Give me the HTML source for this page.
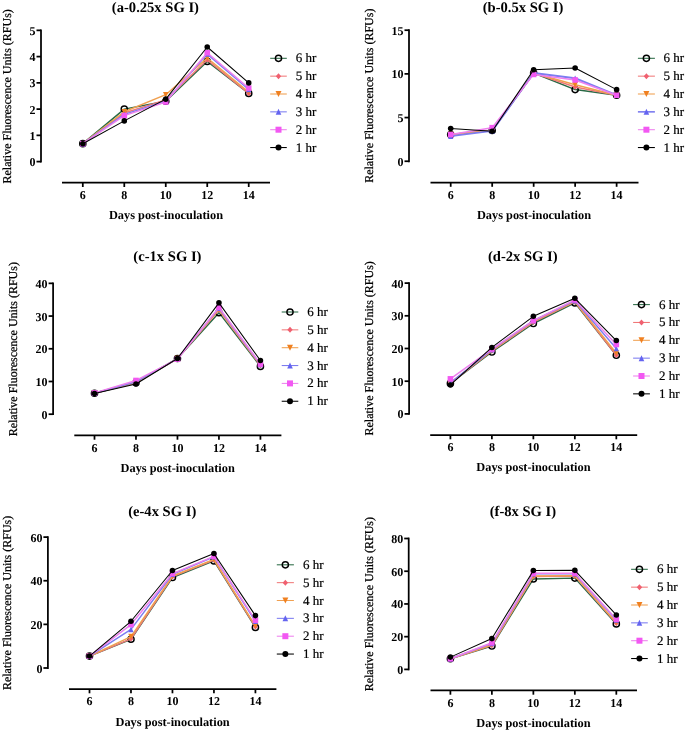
<!DOCTYPE html>
<html><head><meta charset="utf-8"><style>
html,body{margin:0;padding:0;background:#fff;overflow:hidden;width:685px;height:731px;}
svg{display:block;will-change:transform;}
text{font-family:"Liberation Serif", serif;fill:#000;text-rendering:geometricPrecision;}
.title{font-weight:bold;font-size:14.6px;text-anchor:middle;}
.ylab{font-size:12px;text-anchor:middle;stroke:#000;stroke-width:0.25px;}
.ytick{font-weight:bold;font-size:12px;text-anchor:end;}
.xtick{font-weight:bold;font-size:12px;text-anchor:middle;}
.xlab{font-weight:bold;font-size:12.35px;text-anchor:middle;}
.leg{font-size:13px;stroke:#000;stroke-width:0.2px;}
.ax{stroke:#000;stroke-width:1.75;fill:none;}
</style></head><body>
<svg width="685" height="731" viewBox="0 0 685 731">
<rect width="685" height="731" fill="#fff"/>
<text x="155.4" y="11.8" class="title">(a-0.25x SG I)</text>
<text transform="translate(11.1 96.3) rotate(-90)" x="0" y="0" class="ylab">Relative Fluorescence Units (RFUs)</text>
<path d="M41 29.450000000000003V162.5" class="ax"/>
<path d="M36.5 161.60H41" class="ax"/>
<text x="35.5" y="166.10" class="ytick">0</text>
<path d="M36.5 135.35H41" class="ax"/>
<text x="35.5" y="139.85" class="ytick">1</text>
<path d="M36.5 109.10H41" class="ax"/>
<text x="35.5" y="113.60" class="ytick">2</text>
<path d="M36.5 82.85H41" class="ax"/>
<text x="35.5" y="87.35" class="ytick">3</text>
<path d="M36.5 56.60H41" class="ax"/>
<text x="35.5" y="61.10" class="ytick">4</text>
<path d="M36.5 30.35H41" class="ax"/>
<text x="35.5" y="34.85" class="ytick">5</text>
<path d="M62 182.7H270" class="ax"/>
<path d="M82.80 182.7V187.0" class="ax"/>
<text x="82.80" y="198.90" class="xtick">6</text>
<path d="M124.28 182.7V187.0" class="ax"/>
<text x="124.28" y="198.90" class="xtick">8</text>
<path d="M165.76 182.7V187.0" class="ax"/>
<text x="165.76" y="198.90" class="xtick">10</text>
<path d="M207.24 182.7V187.0" class="ax"/>
<text x="207.24" y="198.90" class="xtick">12</text>
<path d="M248.72 182.7V187.0" class="ax"/>
<text x="248.72" y="198.90" class="xtick">14</text>
<text x="166" y="218.8" class="xlab">Days post-inoculation</text>
<path d="M82.80 143.68 L124.28 109.10 L165.76 101.24 L207.24 61.42 L248.72 93.38" fill="none" stroke="#2a6a45" stroke-width="1.45" stroke-linejoin="round"/>
<circle cx="82.80" cy="143.68" r="3.1" fill="none" stroke="#000" stroke-width="1.45"/>
<circle cx="124.28" cy="109.10" r="3.1" fill="none" stroke="#000" stroke-width="1.45"/>
<circle cx="165.76" cy="101.24" r="3.1" fill="none" stroke="#000" stroke-width="1.45"/>
<circle cx="207.24" cy="61.42" r="3.1" fill="none" stroke="#000" stroke-width="1.45"/>
<circle cx="248.72" cy="93.38" r="3.1" fill="none" stroke="#000" stroke-width="1.45"/>
<path d="M82.80 143.68 L124.28 113.03 L165.76 99.93 L207.24 59.84 L248.72 93.38" fill="none" stroke="#f07878" stroke-width="1.45" stroke-linejoin="round"/>
<path d="M82.80 140.89L85.31 143.68L82.80 146.47L80.29 143.68Z" fill="#f06070"/>
<path d="M124.28 110.24L126.79 113.03L124.28 115.82L121.77 113.03Z" fill="#f06070"/>
<path d="M165.76 97.14L168.27 99.93L165.76 102.72L163.25 99.93Z" fill="#f06070"/>
<path d="M207.24 57.05L209.75 59.84L207.24 62.63L204.73 59.84Z" fill="#f06070"/>
<path d="M248.72 90.59L251.23 93.38L248.72 96.17L246.21 93.38Z" fill="#f06070"/>
<path d="M82.80 143.68 L124.28 111.72 L165.76 94.69 L207.24 58.01 L248.72 92.07" fill="none" stroke="#f0a050" stroke-width="1.45" stroke-linejoin="round"/>
<path d="M80.01 140.89L85.59 140.89L82.80 146.47Z" fill="#f08020"/>
<path d="M121.49 108.93L127.07 108.93L124.28 114.51Z" fill="#f08020"/>
<path d="M162.97 91.90L168.55 91.90L165.76 97.48Z" fill="#f08020"/>
<path d="M204.45 55.22L210.03 55.22L207.24 60.80Z" fill="#f08020"/>
<path d="M245.93 89.28L251.51 89.28L248.72 94.86Z" fill="#f08020"/>
<path d="M82.80 143.68 L124.28 114.34 L165.76 101.24 L207.24 54.08 L248.72 89.45" fill="none" stroke="#7c7cf0" stroke-width="1.45" stroke-linejoin="round"/>
<path d="M80.20 146.47L85.40 146.47L82.80 140.89Z" fill="#6464f0"/>
<path d="M121.68 117.13L126.88 117.13L124.28 111.55Z" fill="#6464f0"/>
<path d="M163.16 104.03L168.36 104.03L165.76 98.45Z" fill="#6464f0"/>
<path d="M204.64 56.87L209.84 56.87L207.24 51.29Z" fill="#6464f0"/>
<path d="M246.12 92.24L251.32 92.24L248.72 86.66Z" fill="#6464f0"/>
<path d="M82.80 143.68 L124.28 115.65 L165.76 102.03 L207.24 52.77 L248.72 88.14" fill="none" stroke="#ee80ee" stroke-width="1.45" stroke-linejoin="round"/>
<rect x="80.01" y="140.89" width="5.58" height="5.58" fill="#f258f2"/>
<rect x="121.49" y="112.86" width="5.58" height="5.58" fill="#f258f2"/>
<rect x="162.97" y="99.24" width="5.58" height="5.58" fill="#f258f2"/>
<rect x="204.45" y="49.98" width="5.58" height="5.58" fill="#f258f2"/>
<rect x="245.93" y="85.35" width="5.58" height="5.58" fill="#f258f2"/>
<path d="M82.80 143.68 L124.28 120.89 L165.76 99.14 L207.24 47.01 L248.72 82.90" fill="none" stroke="#000000" stroke-width="1.05" stroke-linejoin="round"/>
<circle cx="82.80" cy="143.68" r="2.79" fill="#000000"/>
<circle cx="124.28" cy="120.89" r="2.79" fill="#000000"/>
<circle cx="165.76" cy="99.14" r="2.79" fill="#000000"/>
<circle cx="207.24" cy="47.01" r="2.79" fill="#000000"/>
<circle cx="248.72" cy="82.90" r="2.79" fill="#000000"/>
<path d="M270.2 58.30H286.8" stroke="#2a6a45" stroke-width="1.05"/>
<circle cx="278.50" cy="58.30" r="3.1" fill="none" stroke="#000" stroke-width="1.45"/>
<text x="295.8" y="62.30" class="leg">6 hr</text>
<path d="M270.2 76.15H286.8" stroke="#f07878" stroke-width="1.05"/>
<path d="M278.50 73.15L281.20 76.15L278.50 79.15L275.80 76.15Z" fill="#f06070"/>
<text x="295.8" y="80.15" class="leg">5 hr</text>
<path d="M270.2 94.00H286.8" stroke="#f0a050" stroke-width="1.05"/>
<path d="M275.50 91.00L281.50 91.00L278.50 97.00Z" fill="#f08020"/>
<text x="295.8" y="98.00" class="leg">4 hr</text>
<path d="M270.2 111.85H286.8" stroke="#7c7cf0" stroke-width="1.05"/>
<path d="M275.70 114.85L281.30 114.85L278.50 108.85Z" fill="#6464f0"/>
<text x="295.8" y="115.85" class="leg">3 hr</text>
<path d="M270.2 129.70H286.8" stroke="#ee80ee" stroke-width="1.05"/>
<rect x="275.50" y="126.70" width="6.00" height="6.00" fill="#f258f2"/>
<text x="295.8" y="133.70" class="leg">2 hr</text>
<path d="M270.2 147.55H286.8" stroke="#000000" stroke-width="1.05"/>
<circle cx="278.50" cy="147.55" r="3.00" fill="#000000"/>
<text x="295.8" y="151.55" class="leg">1 hr</text>
<text x="523.05" y="11.8" class="title">(b-0.5x SG I)</text>
<text transform="translate(373 95.7) rotate(-90)" x="0" y="0" class="ylab">Relative Fluorescence Units (RFUs)</text>
<path d="M409 29.3V162.15" class="ax"/>
<path d="M404.5 161.25H409" class="ax"/>
<text x="403.5" y="165.75" class="ytick">0</text>
<path d="M404.5 117.57H409" class="ax"/>
<text x="403.5" y="122.07" class="ytick">5</text>
<path d="M404.5 73.88H409" class="ax"/>
<text x="403.5" y="78.38" class="ytick">10</text>
<path d="M404.5 30.20H409" class="ax"/>
<text x="403.5" y="34.70" class="ytick">15</text>
<path d="M430.5 182.5H638.5" class="ax"/>
<path d="M450.70 182.5V186.8" class="ax"/>
<text x="450.70" y="198.70" class="xtick">6</text>
<path d="M492.18 182.5V186.8" class="ax"/>
<text x="492.18" y="198.70" class="xtick">8</text>
<path d="M533.66 182.5V186.8" class="ax"/>
<text x="533.66" y="198.70" class="xtick">10</text>
<path d="M575.14 182.5V186.8" class="ax"/>
<text x="575.14" y="198.70" class="xtick">12</text>
<path d="M616.62 182.5V186.8" class="ax"/>
<text x="616.62" y="198.70" class="xtick">14</text>
<text x="534" y="219" class="xlab">Days post-inoculation</text>
<path d="M450.70 134.54 L492.18 130.45 L533.66 73.03 L575.14 89.56 L616.62 95.22" fill="none" stroke="#2a6a45" stroke-width="1.45" stroke-linejoin="round"/>
<circle cx="450.70" cy="134.54" r="3.1" fill="none" stroke="#000" stroke-width="1.45"/>
<circle cx="492.18" cy="130.45" r="3.1" fill="none" stroke="#000" stroke-width="1.45"/>
<circle cx="533.66" cy="73.03" r="3.1" fill="none" stroke="#000" stroke-width="1.45"/>
<circle cx="575.14" cy="89.56" r="3.1" fill="none" stroke="#000" stroke-width="1.45"/>
<circle cx="616.62" cy="95.22" r="3.1" fill="none" stroke="#000" stroke-width="1.45"/>
<path d="M450.70 134.54 L492.18 130.45 L533.66 73.03 L575.14 86.95 L616.62 95.22" fill="none" stroke="#f07878" stroke-width="1.45" stroke-linejoin="round"/>
<path d="M450.70 131.75L453.21 134.54L450.70 137.33L448.19 134.54Z" fill="#f06070"/>
<path d="M492.18 127.66L494.69 130.45L492.18 133.24L489.67 130.45Z" fill="#f06070"/>
<path d="M533.66 70.24L536.17 73.03L533.66 75.82L531.15 73.03Z" fill="#f06070"/>
<path d="M575.14 84.16L577.65 86.95L575.14 89.74L572.63 86.95Z" fill="#f06070"/>
<path d="M616.62 92.43L619.13 95.22L616.62 98.01L614.11 95.22Z" fill="#f06070"/>
<path d="M450.70 134.54 L492.18 130.45 L533.66 73.03 L575.14 84.78 L616.62 95.22" fill="none" stroke="#f0a050" stroke-width="1.45" stroke-linejoin="round"/>
<path d="M447.91 131.75L453.49 131.75L450.70 137.33Z" fill="#f08020"/>
<path d="M489.39 127.66L494.97 127.66L492.18 133.24Z" fill="#f08020"/>
<path d="M530.87 70.24L536.45 70.24L533.66 75.82Z" fill="#f08020"/>
<path d="M572.35 81.98L577.93 81.98L575.14 87.57Z" fill="#f08020"/>
<path d="M613.83 92.43L619.41 92.43L616.62 98.01Z" fill="#f08020"/>
<path d="M450.70 136.11 L492.18 130.88 L533.66 73.03 L575.14 78.25 L616.62 95.22" fill="none" stroke="#7c7cf0" stroke-width="1.9" stroke-linejoin="round"/>
<path d="M448.10 138.90L453.30 138.90L450.70 133.32Z" fill="#6464f0"/>
<path d="M489.58 133.67L494.78 133.67L492.18 128.09Z" fill="#6464f0"/>
<path d="M531.06 75.82L536.26 75.82L533.66 70.24Z" fill="#6464f0"/>
<path d="M572.54 81.04L577.74 81.04L575.14 75.46Z" fill="#6464f0"/>
<path d="M614.02 98.01L619.22 98.01L616.62 92.43Z" fill="#6464f0"/>
<path d="M450.70 134.54 L492.18 127.67 L533.66 74.42 L575.14 79.99 L616.62 95.22" fill="none" stroke="#ee80ee" stroke-width="1.45" stroke-linejoin="round"/>
<rect x="447.91" y="131.75" width="5.58" height="5.58" fill="#f258f2"/>
<rect x="489.39" y="124.88" width="5.58" height="5.58" fill="#f258f2"/>
<rect x="530.87" y="71.63" width="5.58" height="5.58" fill="#f258f2"/>
<rect x="572.35" y="77.20" width="5.58" height="5.58" fill="#f258f2"/>
<rect x="613.83" y="92.43" width="5.58" height="5.58" fill="#f258f2"/>
<path d="M450.70 128.45 L492.18 131.23 L533.66 69.72 L575.14 67.98 L616.62 89.65" fill="none" stroke="#000000" stroke-width="1.05" stroke-linejoin="round"/>
<circle cx="450.70" cy="128.45" r="2.79" fill="#000000"/>
<circle cx="492.18" cy="131.23" r="2.79" fill="#000000"/>
<circle cx="533.66" cy="69.72" r="2.79" fill="#000000"/>
<circle cx="575.14" cy="67.98" r="2.79" fill="#000000"/>
<circle cx="616.62" cy="89.65" r="2.79" fill="#000000"/>
<path d="M637.9 58.30H654.9" stroke="#2a6a45" stroke-width="1.05"/>
<circle cx="646.40" cy="58.30" r="3.1" fill="none" stroke="#000" stroke-width="1.45"/>
<text x="663.5" y="62.30" class="leg">6 hr</text>
<path d="M637.9 76.15H654.9" stroke="#f07878" stroke-width="1.05"/>
<path d="M646.40 73.15L649.10 76.15L646.40 79.15L643.70 76.15Z" fill="#f06070"/>
<text x="663.5" y="80.15" class="leg">5 hr</text>
<path d="M637.9 94.00H654.9" stroke="#f0a050" stroke-width="1.05"/>
<path d="M643.40 91.00L649.40 91.00L646.40 97.00Z" fill="#f08020"/>
<text x="663.5" y="98.00" class="leg">4 hr</text>
<path d="M637.9 111.85H654.9" stroke="#7c7cf0" stroke-width="1.6"/>
<path d="M643.60 114.85L649.20 114.85L646.40 108.85Z" fill="#6464f0"/>
<text x="663.5" y="115.85" class="leg">3 hr</text>
<path d="M637.9 129.70H654.9" stroke="#ee80ee" stroke-width="1.05"/>
<rect x="643.40" y="126.70" width="6.00" height="6.00" fill="#f258f2"/>
<text x="663.5" y="133.70" class="leg">2 hr</text>
<path d="M637.9 147.55H654.9" stroke="#000000" stroke-width="1.05"/>
<circle cx="646.40" cy="147.55" r="3.00" fill="#000000"/>
<text x="663.5" y="151.55" class="leg">1 hr</text>
<text x="167.4" y="261" class="title">(c-1x SG I)</text>
<text transform="translate(17.1 349.2) rotate(-90)" x="0" y="0" class="ylab">Relative Fluorescence Units (RFUs)</text>
<path d="M53.1 282.45000000000005V415.09999999999997" class="ax"/>
<path d="M48.6 414.20H53.1" class="ax"/>
<text x="47.6" y="418.70" class="ytick">0</text>
<path d="M48.6 381.49H53.1" class="ax"/>
<text x="47.6" y="385.99" class="ytick">10</text>
<path d="M48.6 348.77H53.1" class="ax"/>
<text x="47.6" y="353.27" class="ytick">20</text>
<path d="M48.6 316.06H53.1" class="ax"/>
<text x="47.6" y="320.56" class="ytick">30</text>
<path d="M48.6 283.35H53.1" class="ax"/>
<text x="47.6" y="287.85" class="ytick">40</text>
<path d="M74.3 435.4H281.4" class="ax"/>
<path d="M94.50 435.4V439.7" class="ax"/>
<text x="94.50" y="451.60" class="xtick">6</text>
<path d="M135.98 435.4V439.7" class="ax"/>
<text x="135.98" y="451.60" class="xtick">8</text>
<path d="M177.46 435.4V439.7" class="ax"/>
<text x="177.46" y="451.60" class="xtick">10</text>
<path d="M218.94 435.4V439.7" class="ax"/>
<text x="218.94" y="451.60" class="xtick">12</text>
<path d="M260.42 435.4V439.7" class="ax"/>
<text x="260.42" y="451.60" class="xtick">14</text>
<text x="177.7" y="471.5" class="xlab">Days post-inoculation</text>
<path d="M94.50 393.24 L135.98 382.76 L177.46 358.52 L218.94 312.68 L260.42 366.38" fill="none" stroke="#2a6a45" stroke-width="1.45" stroke-linejoin="round"/>
<circle cx="94.50" cy="393.24" r="3.1" fill="none" stroke="#000" stroke-width="1.45"/>
<circle cx="135.98" cy="382.76" r="3.1" fill="none" stroke="#000" stroke-width="1.45"/>
<circle cx="177.46" cy="358.52" r="3.1" fill="none" stroke="#000" stroke-width="1.45"/>
<circle cx="218.94" cy="312.68" r="3.1" fill="none" stroke="#000" stroke-width="1.45"/>
<circle cx="260.42" cy="366.38" r="3.1" fill="none" stroke="#000" stroke-width="1.45"/>
<path d="M94.50 393.24 L135.98 382.43 L177.46 358.52 L218.94 310.06 L260.42 365.40" fill="none" stroke="#f07878" stroke-width="1.45" stroke-linejoin="round"/>
<path d="M94.50 390.45L97.01 393.24L94.50 396.03L91.99 393.24Z" fill="#f06070"/>
<path d="M135.98 379.64L138.49 382.43L135.98 385.22L133.47 382.43Z" fill="#f06070"/>
<path d="M177.46 355.73L179.97 358.52L177.46 361.31L174.95 358.52Z" fill="#f06070"/>
<path d="M218.94 307.26L221.45 310.06L218.94 312.85L216.43 310.06Z" fill="#f06070"/>
<path d="M260.42 362.61L262.93 365.40L260.42 368.19L257.91 365.40Z" fill="#f06070"/>
<path d="M94.50 393.24 L135.98 382.11 L177.46 358.52 L218.94 309.40 L260.42 365.07" fill="none" stroke="#f0a050" stroke-width="1.45" stroke-linejoin="round"/>
<path d="M91.71 390.45L97.29 390.45L94.50 396.03Z" fill="#f08020"/>
<path d="M133.19 379.31L138.77 379.31L135.98 384.90Z" fill="#f08020"/>
<path d="M174.67 355.73L180.25 355.73L177.46 361.31Z" fill="#f08020"/>
<path d="M216.15 306.61L221.73 306.61L218.94 312.19Z" fill="#f08020"/>
<path d="M257.63 362.28L263.21 362.28L260.42 367.87Z" fill="#f08020"/>
<path d="M94.50 393.24 L135.98 381.78 L177.46 358.52 L218.94 308.09 L260.42 364.42" fill="none" stroke="#7c7cf0" stroke-width="1.45" stroke-linejoin="round"/>
<path d="M91.90 396.03L97.10 396.03L94.50 390.45Z" fill="#6464f0"/>
<path d="M133.38 384.57L138.58 384.57L135.98 378.99Z" fill="#6464f0"/>
<path d="M174.86 361.31L180.06 361.31L177.46 355.73Z" fill="#6464f0"/>
<path d="M216.34 310.88L221.54 310.88L218.94 305.30Z" fill="#6464f0"/>
<path d="M257.82 367.21L263.02 367.21L260.42 361.63Z" fill="#6464f0"/>
<path d="M94.50 392.91 L135.98 380.47 L177.46 359.18 L218.94 307.44 L260.42 364.09" fill="none" stroke="#ee80ee" stroke-width="1.45" stroke-linejoin="round"/>
<rect x="91.71" y="390.12" width="5.58" height="5.58" fill="#f258f2"/>
<rect x="133.19" y="377.68" width="5.58" height="5.58" fill="#f258f2"/>
<rect x="174.67" y="356.39" width="5.58" height="5.58" fill="#f258f2"/>
<rect x="216.15" y="304.64" width="5.58" height="5.58" fill="#f258f2"/>
<rect x="257.63" y="361.30" width="5.58" height="5.58" fill="#f258f2"/>
<path d="M94.50 393.57 L135.98 384.07 L177.46 358.52 L218.94 302.85 L260.42 360.49" fill="none" stroke="#000000" stroke-width="1.05" stroke-linejoin="round"/>
<circle cx="94.50" cy="393.57" r="2.79" fill="#000000"/>
<circle cx="135.98" cy="384.07" r="2.79" fill="#000000"/>
<circle cx="177.46" cy="358.52" r="2.79" fill="#000000"/>
<circle cx="218.94" cy="302.85" r="2.79" fill="#000000"/>
<circle cx="260.42" cy="360.49" r="2.79" fill="#000000"/>
<path d="M281.7 312.00H298.3" stroke="#2a6a45" stroke-width="1.05"/>
<circle cx="290.00" cy="312.00" r="3.1" fill="none" stroke="#000" stroke-width="1.45"/>
<text x="307.3" y="316.00" class="leg">6 hr</text>
<path d="M281.7 329.85H298.3" stroke="#f07878" stroke-width="1.05"/>
<path d="M290.00 326.85L292.70 329.85L290.00 332.85L287.30 329.85Z" fill="#f06070"/>
<text x="307.3" y="333.85" class="leg">5 hr</text>
<path d="M281.7 347.70H298.3" stroke="#f0a050" stroke-width="1.05"/>
<path d="M287.00 344.70L293.00 344.70L290.00 350.70Z" fill="#f08020"/>
<text x="307.3" y="351.70" class="leg">4 hr</text>
<path d="M281.7 365.55H298.3" stroke="#7c7cf0" stroke-width="1.05"/>
<path d="M287.20 368.55L292.80 368.55L290.00 362.55Z" fill="#6464f0"/>
<text x="307.3" y="369.55" class="leg">3 hr</text>
<path d="M281.7 383.40H298.3" stroke="#ee80ee" stroke-width="1.05"/>
<rect x="287.00" y="380.40" width="6.00" height="6.00" fill="#f258f2"/>
<text x="307.3" y="387.40" class="leg">2 hr</text>
<path d="M281.7 401.25H298.3" stroke="#000000" stroke-width="1.05"/>
<circle cx="290.00" cy="401.25" r="3.00" fill="#000000"/>
<text x="307.3" y="405.25" class="leg">1 hr</text>
<text x="522.8" y="261" class="title">(d-2x SG I)</text>
<text transform="translate(373 348.3) rotate(-90)" x="0" y="0" class="ylab">Relative Fluorescence Units (RFUs)</text>
<path d="M409.1 282.20000000000005V414.79999999999995" class="ax"/>
<path d="M404.6 413.90H409.1" class="ax"/>
<text x="403.6" y="418.40" class="ytick">0</text>
<path d="M404.6 381.20H409.1" class="ax"/>
<text x="403.6" y="385.70" class="ytick">10</text>
<path d="M404.6 348.50H409.1" class="ax"/>
<text x="403.6" y="353.00" class="ytick">20</text>
<path d="M404.6 315.80H409.1" class="ax"/>
<text x="403.6" y="320.30" class="ytick">30</text>
<path d="M404.6 283.10H409.1" class="ax"/>
<text x="403.6" y="287.60" class="ytick">40</text>
<path d="M430.2 435H637.2" class="ax"/>
<path d="M450.40 435V439.3" class="ax"/>
<text x="450.40" y="451.20" class="xtick">6</text>
<path d="M491.88 435V439.3" class="ax"/>
<text x="491.88" y="451.20" class="xtick">8</text>
<path d="M533.36 435V439.3" class="ax"/>
<text x="533.36" y="451.20" class="xtick">10</text>
<path d="M574.84 435V439.3" class="ax"/>
<text x="574.84" y="451.20" class="xtick">12</text>
<path d="M616.32 435V439.3" class="ax"/>
<text x="616.32" y="451.20" class="xtick">14</text>
<text x="533.4" y="470.8" class="xlab">Days post-inoculation</text>
<path d="M450.40 383.44 L491.88 352.00 L533.36 323.51 L574.84 302.88 L616.32 355.28" fill="none" stroke="#2a6a45" stroke-width="1.45" stroke-linejoin="round"/>
<circle cx="450.40" cy="383.44" r="3.1" fill="none" stroke="#000" stroke-width="1.45"/>
<circle cx="491.88" cy="352.00" r="3.1" fill="none" stroke="#000" stroke-width="1.45"/>
<circle cx="533.36" cy="323.51" r="3.1" fill="none" stroke="#000" stroke-width="1.45"/>
<circle cx="574.84" cy="302.88" r="3.1" fill="none" stroke="#000" stroke-width="1.45"/>
<circle cx="616.32" cy="355.28" r="3.1" fill="none" stroke="#000" stroke-width="1.45"/>
<path d="M450.40 383.11 L491.88 351.02 L533.36 322.20 L574.84 301.89 L616.32 355.28" fill="none" stroke="#f07878" stroke-width="1.45" stroke-linejoin="round"/>
<path d="M450.40 380.32L452.91 383.11L450.40 385.90L447.89 383.11Z" fill="#f06070"/>
<path d="M491.88 348.23L494.39 351.02L491.88 353.81L489.37 351.02Z" fill="#f06070"/>
<path d="M533.36 319.41L535.87 322.20L533.36 324.99L530.85 322.20Z" fill="#f06070"/>
<path d="M574.84 299.10L577.35 301.89L574.84 304.69L572.33 301.89Z" fill="#f06070"/>
<path d="M616.32 352.49L618.83 355.28L616.32 358.07L613.81 355.28Z" fill="#f06070"/>
<path d="M450.40 382.79 L491.88 350.37 L533.36 321.22 L574.84 301.24 L616.32 353.31" fill="none" stroke="#f0a050" stroke-width="1.45" stroke-linejoin="round"/>
<path d="M447.61 380.00L453.19 380.00L450.40 385.58Z" fill="#f08020"/>
<path d="M489.09 347.57L494.67 347.57L491.88 353.16Z" fill="#f08020"/>
<path d="M530.57 318.43L536.15 318.43L533.36 324.01Z" fill="#f08020"/>
<path d="M572.05 298.45L577.63 298.45L574.84 304.03Z" fill="#f08020"/>
<path d="M613.53 350.52L619.11 350.52L616.32 356.10Z" fill="#f08020"/>
<path d="M450.40 382.79 L491.88 349.71 L533.36 320.56 L574.84 300.58 L616.32 348.40" fill="none" stroke="#7c7cf0" stroke-width="1.45" stroke-linejoin="round"/>
<path d="M447.80 385.58L453.00 385.58L450.40 380.00Z" fill="#6464f0"/>
<path d="M489.28 352.50L494.48 352.50L491.88 346.92Z" fill="#6464f0"/>
<path d="M530.76 323.35L535.96 323.35L533.36 317.77Z" fill="#6464f0"/>
<path d="M572.24 303.38L577.44 303.38L574.84 297.79Z" fill="#6464f0"/>
<path d="M613.72 351.19L618.92 351.19L616.32 345.61Z" fill="#6464f0"/>
<path d="M450.40 378.86 L491.88 349.05 L533.36 320.56 L574.84 299.93 L616.32 344.47" fill="none" stroke="#ee80ee" stroke-width="1.45" stroke-linejoin="round"/>
<rect x="447.61" y="376.07" width="5.58" height="5.58" fill="#f258f2"/>
<rect x="489.09" y="346.26" width="5.58" height="5.58" fill="#f258f2"/>
<rect x="530.57" y="317.77" width="5.58" height="5.58" fill="#f258f2"/>
<rect x="572.05" y="297.14" width="5.58" height="5.58" fill="#f258f2"/>
<rect x="613.53" y="341.68" width="5.58" height="5.58" fill="#f258f2"/>
<path d="M450.40 384.92 L491.88 347.42 L533.36 316.30 L574.84 298.29 L616.32 340.54" fill="none" stroke="#000000" stroke-width="1.05" stroke-linejoin="round"/>
<circle cx="450.40" cy="384.92" r="2.79" fill="#000000"/>
<circle cx="491.88" cy="347.42" r="2.79" fill="#000000"/>
<circle cx="533.36" cy="316.30" r="2.79" fill="#000000"/>
<circle cx="574.84" cy="298.29" r="2.79" fill="#000000"/>
<circle cx="616.32" cy="340.54" r="2.79" fill="#000000"/>
<path d="M633.1 304.60H649.9" stroke="#2a6a45" stroke-width="1.05"/>
<circle cx="641.50" cy="304.60" r="3.1" fill="none" stroke="#000" stroke-width="1.45"/>
<text x="659.1" y="308.60" class="leg">6 hr</text>
<path d="M633.1 322.45H649.9" stroke="#f07878" stroke-width="1.05"/>
<path d="M641.50 319.45L644.20 322.45L641.50 325.45L638.80 322.45Z" fill="#f06070"/>
<text x="659.1" y="326.45" class="leg">5 hr</text>
<path d="M633.1 340.30H649.9" stroke="#f0a050" stroke-width="1.05"/>
<path d="M638.50 337.30L644.50 337.30L641.50 343.30Z" fill="#f08020"/>
<text x="659.1" y="344.30" class="leg">4 hr</text>
<path d="M633.1 358.15H649.9" stroke="#7c7cf0" stroke-width="1.05"/>
<path d="M638.70 361.15L644.30 361.15L641.50 355.15Z" fill="#6464f0"/>
<text x="659.1" y="362.15" class="leg">3 hr</text>
<path d="M633.1 376.00H649.9" stroke="#ee80ee" stroke-width="1.05"/>
<rect x="638.50" y="373.00" width="6.00" height="6.00" fill="#f258f2"/>
<text x="659.1" y="380.00" class="leg">2 hr</text>
<path d="M633.1 393.85H649.9" stroke="#000000" stroke-width="1.05"/>
<circle cx="641.50" cy="393.85" r="3.00" fill="#000000"/>
<text x="659.1" y="397.85" class="leg">1 hr</text>
<text x="162.2" y="516" class="title">(e-4x SG I)</text>
<text transform="translate(11 602.9) rotate(-90)" x="0" y="0" class="ylab">Relative Fluorescence Units (RFUs)</text>
<path d="M47.9 536.2V668.9" class="ax"/>
<path d="M43.4 668.00H47.9" class="ax"/>
<text x="42.4" y="672.50" class="ytick">0</text>
<path d="M43.4 624.37H47.9" class="ax"/>
<text x="42.4" y="628.87" class="ytick">20</text>
<path d="M43.4 580.73H47.9" class="ax"/>
<text x="42.4" y="585.23" class="ytick">40</text>
<path d="M43.4 537.10H47.9" class="ax"/>
<text x="42.4" y="541.60" class="ytick">60</text>
<path d="M69 689H276.4" class="ax"/>
<path d="M89.50 689V693.3" class="ax"/>
<text x="89.50" y="705.20" class="xtick">6</text>
<path d="M130.98 689V693.3" class="ax"/>
<text x="130.98" y="705.20" class="xtick">8</text>
<path d="M172.46 689V693.3" class="ax"/>
<text x="172.46" y="705.20" class="xtick">10</text>
<path d="M213.94 689V693.3" class="ax"/>
<text x="213.94" y="705.20" class="xtick">12</text>
<path d="M255.42 689V693.3" class="ax"/>
<text x="255.42" y="705.20" class="xtick">14</text>
<text x="172.6" y="725.5" class="xlab">Days post-inoculation</text>
<path d="M89.50 656.08 L130.98 639.23 L172.46 577.52 L213.94 560.89 L255.42 627.42" fill="none" stroke="#2a6a45" stroke-width="1.45" stroke-linejoin="round"/>
<circle cx="89.50" cy="656.08" r="3.1" fill="none" stroke="#000" stroke-width="1.45"/>
<circle cx="130.98" cy="639.23" r="3.1" fill="none" stroke="#000" stroke-width="1.45"/>
<circle cx="172.46" cy="577.52" r="3.1" fill="none" stroke="#000" stroke-width="1.45"/>
<circle cx="213.94" cy="560.89" r="3.1" fill="none" stroke="#000" stroke-width="1.45"/>
<circle cx="255.42" cy="627.42" r="3.1" fill="none" stroke="#000" stroke-width="1.45"/>
<path d="M89.50 656.08 L130.98 638.80 L172.46 576.65 L213.94 560.02 L255.42 626.76" fill="none" stroke="#f07878" stroke-width="1.45" stroke-linejoin="round"/>
<path d="M89.50 653.29L92.01 656.08L89.50 658.87L86.99 656.08Z" fill="#f06070"/>
<path d="M130.98 636.01L133.49 638.80L130.98 641.59L128.47 638.80Z" fill="#f06070"/>
<path d="M172.46 573.86L174.97 576.65L172.46 579.44L169.95 576.65Z" fill="#f06070"/>
<path d="M213.94 557.23L216.45 560.02L213.94 562.81L211.43 560.02Z" fill="#f06070"/>
<path d="M255.42 623.97L257.93 626.76L255.42 629.55L252.91 626.76Z" fill="#f06070"/>
<path d="M89.50 656.08 L130.98 636.61 L172.46 575.99 L213.94 559.36 L255.42 625.88" fill="none" stroke="#f0a050" stroke-width="1.45" stroke-linejoin="round"/>
<path d="M86.71 653.29L92.29 653.29L89.50 658.87Z" fill="#f08020"/>
<path d="M128.19 633.82L133.77 633.82L130.98 639.40Z" fill="#f08020"/>
<path d="M169.67 573.20L175.25 573.20L172.46 578.78Z" fill="#f08020"/>
<path d="M211.15 556.57L216.73 556.57L213.94 562.15Z" fill="#f08020"/>
<path d="M252.63 623.09L258.21 623.09L255.42 628.67Z" fill="#f08020"/>
<path d="M89.50 656.08 L130.98 629.39 L172.46 574.24 L213.94 556.73 L255.42 621.29" fill="none" stroke="#7c7cf0" stroke-width="1.45" stroke-linejoin="round"/>
<path d="M86.90 658.87L92.10 658.87L89.50 653.29Z" fill="#6464f0"/>
<path d="M128.38 632.18L133.58 632.18L130.98 626.60Z" fill="#6464f0"/>
<path d="M169.86 577.03L175.06 577.03L172.46 571.45Z" fill="#6464f0"/>
<path d="M211.34 559.52L216.54 559.52L213.94 553.94Z" fill="#6464f0"/>
<path d="M252.82 624.08L258.02 624.08L255.42 618.50Z" fill="#6464f0"/>
<path d="M89.50 656.08 L130.98 624.57 L172.46 573.58 L213.94 556.30 L255.42 620.19" fill="none" stroke="#ee80ee" stroke-width="1.45" stroke-linejoin="round"/>
<rect x="86.71" y="653.29" width="5.58" height="5.58" fill="#f258f2"/>
<rect x="128.19" y="621.78" width="5.58" height="5.58" fill="#f258f2"/>
<rect x="169.67" y="570.79" width="5.58" height="5.58" fill="#f258f2"/>
<rect x="211.15" y="553.51" width="5.58" height="5.58" fill="#f258f2"/>
<rect x="252.63" y="617.40" width="5.58" height="5.58" fill="#f258f2"/>
<path d="M89.50 656.08 L130.98 621.29 L172.46 570.52 L213.94 553.45 L255.42 615.60" fill="none" stroke="#000000" stroke-width="1.05" stroke-linejoin="round"/>
<circle cx="89.50" cy="656.08" r="2.79" fill="#000000"/>
<circle cx="130.98" cy="621.29" r="2.79" fill="#000000"/>
<circle cx="172.46" cy="570.52" r="2.79" fill="#000000"/>
<circle cx="213.94" cy="553.45" r="2.79" fill="#000000"/>
<circle cx="255.42" cy="615.60" r="2.79" fill="#000000"/>
<path d="M276.8 564.80H293.9" stroke="#2a6a45" stroke-width="1.05"/>
<circle cx="285.35" cy="564.80" r="3.1" fill="none" stroke="#000" stroke-width="1.45"/>
<text x="302.9" y="568.80" class="leg">6 hr</text>
<path d="M276.8 582.65H293.9" stroke="#f07878" stroke-width="1.05"/>
<path d="M285.35 579.65L288.05 582.65L285.35 585.65L282.65 582.65Z" fill="#f06070"/>
<text x="302.9" y="586.65" class="leg">5 hr</text>
<path d="M276.8 600.50H293.9" stroke="#f0a050" stroke-width="1.05"/>
<path d="M282.35 597.50L288.35 597.50L285.35 603.50Z" fill="#f08020"/>
<text x="302.9" y="604.50" class="leg">4 hr</text>
<path d="M276.8 618.35H293.9" stroke="#7c7cf0" stroke-width="1.05"/>
<path d="M282.55 621.35L288.15 621.35L285.35 615.35Z" fill="#6464f0"/>
<text x="302.9" y="622.35" class="leg">3 hr</text>
<path d="M276.8 636.20H293.9" stroke="#ee80ee" stroke-width="1.05"/>
<rect x="282.35" y="633.20" width="6.00" height="6.00" fill="#f258f2"/>
<text x="302.9" y="640.20" class="leg">2 hr</text>
<path d="M276.8 654.05H293.9" stroke="#000000" stroke-width="1.05"/>
<circle cx="285.35" cy="654.05" r="3.00" fill="#000000"/>
<text x="302.9" y="658.05" class="leg">1 hr</text>
<text x="522.9" y="516.3" class="title">(f-8x SG I)</text>
<text transform="translate(373.1 604.15) rotate(-90)" x="0" y="0" class="ylab">Relative Fluorescence Units (RFUs)</text>
<path d="M408.7 537.6V670.3" class="ax"/>
<path d="M404.2 669.40H408.7" class="ax"/>
<text x="403.2" y="673.90" class="ytick">0</text>
<path d="M404.2 636.67H408.7" class="ax"/>
<text x="403.2" y="641.17" class="ytick">20</text>
<path d="M404.2 603.95H408.7" class="ax"/>
<text x="403.2" y="608.45" class="ytick">40</text>
<path d="M404.2 571.23H408.7" class="ax"/>
<text x="403.2" y="575.73" class="ytick">60</text>
<path d="M404.2 538.50H408.7" class="ax"/>
<text x="403.2" y="543.00" class="ytick">80</text>
<path d="M430.5 690.4H637.0" class="ax"/>
<path d="M450.40 690.4V694.6999999999999" class="ax"/>
<text x="450.40" y="706.60" class="xtick">6</text>
<path d="M491.88 690.4V694.6999999999999" class="ax"/>
<text x="491.88" y="706.60" class="xtick">8</text>
<path d="M533.36 690.4V694.6999999999999" class="ax"/>
<text x="533.36" y="706.60" class="xtick">10</text>
<path d="M574.84 690.4V694.6999999999999" class="ax"/>
<text x="574.84" y="706.60" class="xtick">12</text>
<path d="M616.32 690.4V694.6999999999999" class="ax"/>
<text x="616.32" y="706.60" class="xtick">14</text>
<text x="533.4" y="726.9" class="xlab">Days post-inoculation</text>
<path d="M450.40 658.76 L491.88 646.03 L533.36 578.94 L574.84 578.12 L616.32 623.89" fill="none" stroke="#2a6a45" stroke-width="1.45" stroke-linejoin="round"/>
<circle cx="450.40" cy="658.76" r="3.1" fill="none" stroke="#000" stroke-width="1.45"/>
<circle cx="491.88" cy="646.03" r="3.1" fill="none" stroke="#000" stroke-width="1.45"/>
<circle cx="533.36" cy="578.94" r="3.1" fill="none" stroke="#000" stroke-width="1.45"/>
<circle cx="574.84" cy="578.12" r="3.1" fill="none" stroke="#000" stroke-width="1.45"/>
<circle cx="616.32" cy="623.89" r="3.1" fill="none" stroke="#000" stroke-width="1.45"/>
<path d="M450.40 658.76 L491.88 645.37 L533.36 576.46 L574.84 576.13 L616.32 623.23" fill="none" stroke="#f07878" stroke-width="1.45" stroke-linejoin="round"/>
<path d="M450.40 655.97L452.91 658.76L450.40 661.55L447.89 658.76Z" fill="#f06070"/>
<path d="M491.88 642.58L494.39 645.37L491.88 648.16L489.37 645.37Z" fill="#f06070"/>
<path d="M533.36 573.67L535.87 576.46L533.36 579.25L530.85 576.46Z" fill="#f06070"/>
<path d="M574.84 573.34L577.35 576.13L574.84 578.92L572.33 576.13Z" fill="#f06070"/>
<path d="M616.32 620.44L618.83 623.23L616.32 626.02L613.81 623.23Z" fill="#f06070"/>
<path d="M450.40 658.76 L491.88 644.71 L533.36 575.97 L574.84 575.64 L616.32 622.40" fill="none" stroke="#f0a050" stroke-width="1.45" stroke-linejoin="round"/>
<path d="M447.61 655.97L453.19 655.97L450.40 661.55Z" fill="#f08020"/>
<path d="M489.09 641.92L494.67 641.92L491.88 647.50Z" fill="#f08020"/>
<path d="M530.57 573.18L536.15 573.18L533.36 578.76Z" fill="#f08020"/>
<path d="M572.05 572.85L577.63 572.85L574.84 578.43Z" fill="#f08020"/>
<path d="M613.53 619.61L619.11 619.61L616.32 625.19Z" fill="#f08020"/>
<path d="M450.40 658.76 L491.88 643.39 L533.36 573.82 L574.84 573.65 L616.32 619.92" fill="none" stroke="#7c7cf0" stroke-width="1.45" stroke-linejoin="round"/>
<path d="M447.80 661.55L453.00 661.55L450.40 655.97Z" fill="#6464f0"/>
<path d="M489.28 646.18L494.48 646.18L491.88 640.60Z" fill="#6464f0"/>
<path d="M530.76 576.61L535.96 576.61L533.36 571.03Z" fill="#6464f0"/>
<path d="M572.24 576.44L577.44 576.44L574.84 570.87Z" fill="#6464f0"/>
<path d="M613.72 622.71L618.92 622.71L616.32 617.13Z" fill="#6464f0"/>
<path d="M450.40 658.76 L491.88 642.73 L533.36 573.32 L574.84 573.16 L616.32 619.26" fill="none" stroke="#ee80ee" stroke-width="1.45" stroke-linejoin="round"/>
<rect x="447.61" y="655.97" width="5.58" height="5.58" fill="#f258f2"/>
<rect x="489.09" y="639.94" width="5.58" height="5.58" fill="#f258f2"/>
<rect x="530.57" y="570.53" width="5.58" height="5.58" fill="#f258f2"/>
<rect x="572.05" y="570.37" width="5.58" height="5.58" fill="#f258f2"/>
<rect x="613.53" y="616.47" width="5.58" height="5.58" fill="#f258f2"/>
<path d="M450.40 657.11 L491.88 638.60 L533.36 570.52 L574.84 570.35 L616.32 614.97" fill="none" stroke="#000000" stroke-width="1.05" stroke-linejoin="round"/>
<circle cx="450.40" cy="657.11" r="2.79" fill="#000000"/>
<circle cx="491.88" cy="638.60" r="2.79" fill="#000000"/>
<circle cx="533.36" cy="570.52" r="2.79" fill="#000000"/>
<circle cx="574.84" cy="570.35" r="2.79" fill="#000000"/>
<circle cx="616.32" cy="614.97" r="2.79" fill="#000000"/>
<path d="M631.1 569.30H647.8" stroke="#2a6a45" stroke-width="1.05"/>
<circle cx="639.45" cy="569.30" r="3.1" fill="none" stroke="#000" stroke-width="1.45"/>
<text x="656.9" y="573.30" class="leg">6 hr</text>
<path d="M631.1 587.15H647.8" stroke="#f07878" stroke-width="1.05"/>
<path d="M639.45 584.15L642.15 587.15L639.45 590.15L636.75 587.15Z" fill="#f06070"/>
<text x="656.9" y="591.15" class="leg">5 hr</text>
<path d="M631.1 605.00H647.8" stroke="#f0a050" stroke-width="1.05"/>
<path d="M636.45 602.00L642.45 602.00L639.45 608.00Z" fill="#f08020"/>
<text x="656.9" y="609.00" class="leg">4 hr</text>
<path d="M631.1 622.85H647.8" stroke="#7c7cf0" stroke-width="1.05"/>
<path d="M636.65 625.85L642.25 625.85L639.45 619.85Z" fill="#6464f0"/>
<text x="656.9" y="626.85" class="leg">3 hr</text>
<path d="M631.1 640.70H647.8" stroke="#ee80ee" stroke-width="1.05"/>
<rect x="636.45" y="637.70" width="6.00" height="6.00" fill="#f258f2"/>
<text x="656.9" y="644.70" class="leg">2 hr</text>
<path d="M631.1 658.55H647.8" stroke="#000000" stroke-width="1.05"/>
<circle cx="639.45" cy="658.55" r="3.00" fill="#000000"/>
<text x="656.9" y="662.55" class="leg">1 hr</text>
</svg>
</body></html>
